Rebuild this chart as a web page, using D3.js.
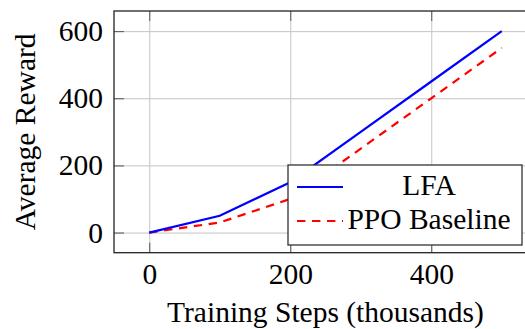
<!DOCTYPE html>
<html>
<head>
<meta charset="utf-8">
<script src="https://cdn.jsdelivr.net/npm/d3@7"></script>
<style>
  html, body { margin: 0; padding: 0; background: #fff; overflow: hidden; }
  svg { display: block; }
  svg text { font-family: "Liberation Serif", "DejaVu Serif", serif; }
</style>
</head>
<body>
<svg id="chart"></svg>
<script>
// data
const steps = [0, 100, 200, 300, 400, 500]
const lfa = [0, 50, 150, 300, 450, 600]
const ppo = [0, 30, 100, 250, 400, 550]
const xTicks = [0, 200, 400]
const yTicks = [0, 200, 400, 600]
const seriesNames = ['LFA', 'PPO Baseline']

const width = 525
const height = 329
const fontSize = 29.5

const svg = d3.select('svg#chart')
  .attr('width', width)
  .attr('height', height)
  .attr('viewBox', `0 0 ${width} ${height}`)

// plot box; right edge falls outside the crop like in the reference
const box = {left: 114, right: 537, top: 11, bottom: 252.7}

const x = d3.scaleLinear().domain([-50, 550]).range([box.left, box.right])
const y = d3.scaleLinear().domain([-60, 660]).range([box.bottom, box.top])

// grid
svg.append('g')
    .attr('transform', `translate(0,${box.bottom})`)
    .call(d3.axisBottom(x).tickValues(xTicks).tickSize(-(box.bottom - box.top)).tickFormat(''))
    .call(g => g.select('.domain').remove())
    .call(g => g.selectAll('line').attr('stroke', '#c4c4c4').attr('stroke-width', 1))

svg.append('g')
    .attr('transform', `translate(${box.left},0)`)
    .call(d3.axisLeft(y).tickValues(yTicks).tickSize(-(box.right - box.left)).tickFormat(''))
    .call(g => g.select('.domain').remove())
    .call(g => g.selectAll('line').attr('stroke', '#c4c4c4').attr('stroke-width', 1))

// series
const rowsOf = vals => steps.map((s, i) => [s, vals[i]])
const line = d3.line().x(d => x(d[0])).y(d => y(d[1]))

svg.append('path')
    .datum(rowsOf(ppo))
    .attr('d', line)
    .attr('fill', 'none')
    .attr('stroke', '#ff0000')
    .attr('stroke-width', 2.2)
    .attr('stroke-dasharray', '8.4,6.6')

svg.append('path')
    .datum(rowsOf(lfa))
    .attr('d', line)
    .attr('fill', 'none')
    .attr('stroke', '#0000ff')
    .attr('stroke-width', 2.2)

// inward ticks on all four sides
const tickStyle = g => g.call(g => g.select('.domain').remove())
    .call(g => g.selectAll('line').attr('stroke', '#555').attr('stroke-width', 1))
const tickLen = 10

svg.append('g')
    .attr('transform', `translate(0,${box.bottom})`)
    .call(d3.axisBottom(x).tickValues(xTicks).tickSize(-tickLen).tickFormat('')).call(tickStyle)
svg.append('g')
    .attr('transform', `translate(0,${box.top})`)
    .call(d3.axisTop(x).tickValues(xTicks).tickSize(-tickLen).tickFormat('')).call(tickStyle)
svg.append('g')
    .attr('transform', `translate(${box.left},0)`)
    .call(d3.axisLeft(y).tickValues(yTicks).tickSize(-tickLen).tickFormat('')).call(tickStyle)

// frame
svg.append('rect')
    .attr('x', box.left)
    .attr('y', box.top)
    .attr('width', box.right - box.left)
    .attr('height', box.bottom - box.top)
    .attr('fill', 'none')
    .attr('stroke', '#222')
    .attr('stroke-width', 1.3)

// tick labels
const labelStyle = g => g.attr('font-family', null).attr('font-size', null)
    .call(g => g.select('.domain').remove())
    .call(g => g.selectAll('text').attr('font-size', fontSize).attr('fill', '#000'))

svg.append('g')
    .attr('transform', `translate(0,${box.bottom})`)
    .call(d3.axisBottom(x).tickValues(xTicks).tickSize(0).tickPadding(10))
    .call(labelStyle)

svg.append('g')
    .attr('transform', `translate(${box.left},0)`)
    .call(d3.axisLeft(y).tickValues(yTicks).tickSize(0).tickPadding(11))
    .call(labelStyle)

// axis titles
svg.append('text')
    .attr('x', (x(0) + x(500)) / 2)
    .attr('y', 321.5)
    .attr('text-anchor', 'middle')
    .attr('font-size', fontSize)
    .text('Training Steps (thousands)')

svg.append('text')
    .attr('transform', `translate(34.5,${(box.top + box.bottom) / 2}) rotate(-90)`)
    .attr('text-anchor', 'middle')
    .attr('font-size', fontSize)
    .text('Average Reward')

// legend
const legend = {x: 288, y: 165, w: 234, h: 80}
const lg = svg.append('g')
lg.append('rect')
    .attr('x', legend.x)
    .attr('y', legend.y)
    .attr('width', legend.w)
    .attr('height', legend.h)
    .attr('fill', '#fff')
    .attr('stroke', '#333')
    .attr('stroke-width', 1.3)

const legendRows = [
  {name: seriesNames[0], color: '#0000ff', dash: null, y: 187},
  {name: seriesNames[1], color: '#ff0000', dash: '8.4,6.6', y: 221},
]

lg.selectAll('line.key')
  .data(legendRows)
  .join('line')
    .attr('class', 'key')
    .attr('x1', 297)
    .attr('x2', 343)
    .attr('y1', d => d.y)
    .attr('y2', d => d.y)
    .attr('stroke', d => d.color)
    .attr('stroke-width', 2.2)
    .attr('stroke-dasharray', d => d.dash)

lg.selectAll('text')
  .data(legendRows)
  .join('text')
    .attr('x', 429)
    .attr('y', d => d.y + 8)
    .attr('text-anchor', 'middle')
    .attr('font-size', fontSize)
    .text(d => d.name)
</script>
</body>
</html>
